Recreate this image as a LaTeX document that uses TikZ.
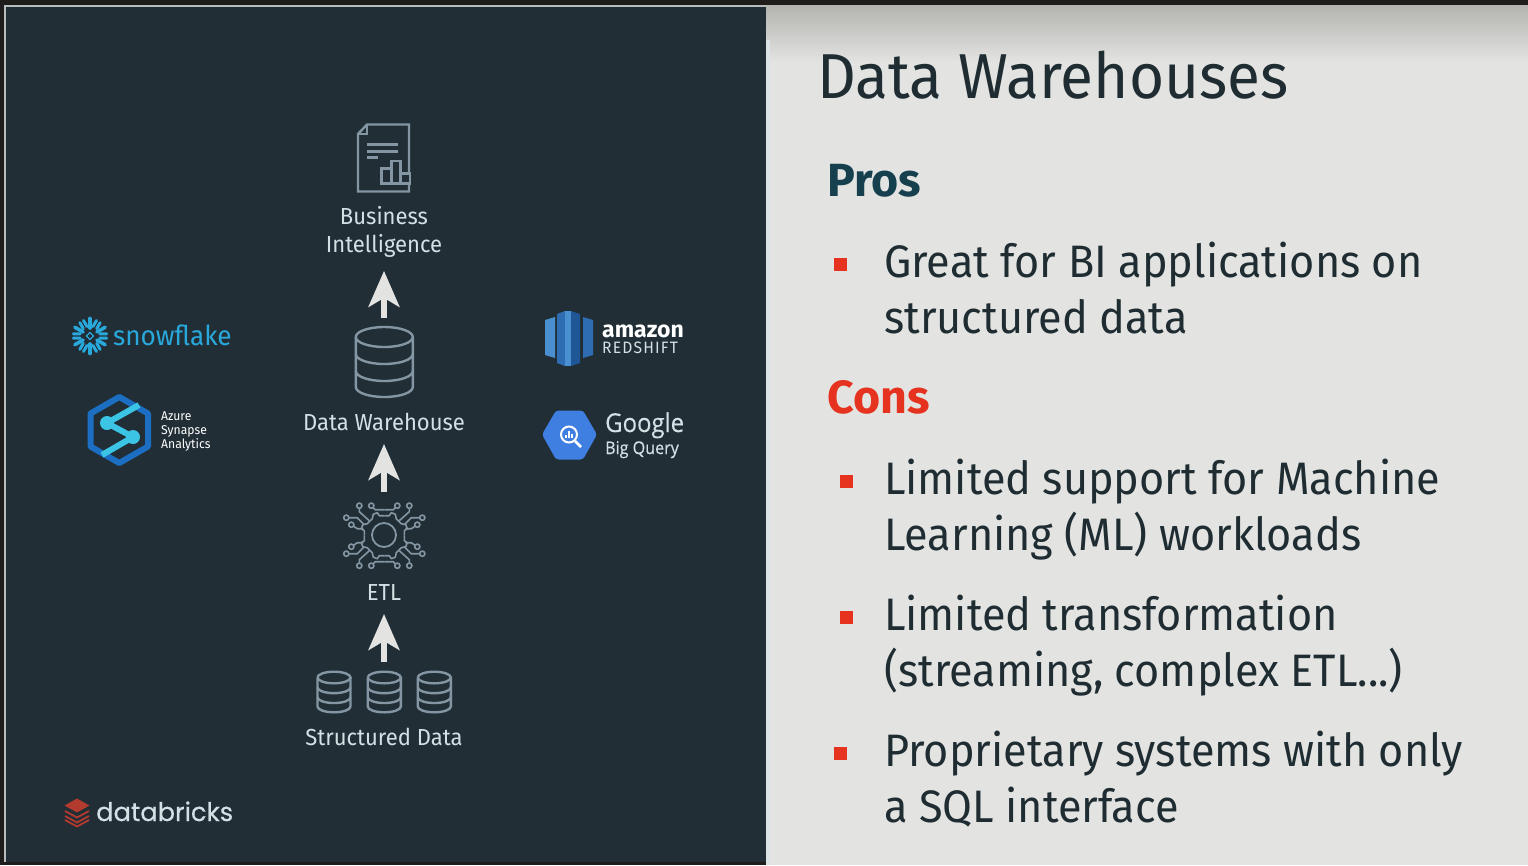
\documentclass[tikz,border=0pt]{standalone}
\usepackage{fontspec}
\setmainfont[FakeStretch=0.95]{Fira Sans}
\newfontfamily\boldface{Fira Sans}
\newfontfamily\logoface[FakeBold=0.4]{Poppins}
\newfontfamily\googleface[FakeStretch=0.92, FakeBold=0.3]{Open Sans}
\usetikzlibrary{positioning, arrows.meta}
\definecolor{slatebg}{HTML}{212E36}
\definecolor{paperbg}{HTML}{E3E4E1}
\definecolor{paperedge}{HTML}{DCE3E5}
\definecolor{topshade}{HTML}{B3B3B0}
\definecolor{framebar}{HTML}{1E1D1B}
\definecolor{frameedge}{HTML}{B9BCBC}
\definecolor{iconline}{HTML}{8496A3}
\definecolor{labeltxt}{HTML}{D5E0E4}
\definecolor{inktxt}{HTML}{1F2D33}
\definecolor{prostxt}{HTML}{17404F}
\definecolor{redmark}{HTML}{E5331F}
\definecolor{snowblue}{HTML}{29A8DC}
\definecolor{hexblue}{HTML}{1B6EC2}
\definecolor{hexcyan}{HTML}{3CC4E4}
\definecolor{shiftlight}{HTML}{4A8FD0}
\definecolor{shiftmid}{HTML}{2F6DB3}
\definecolor{shiftdark}{HTML}{1F5695}
\definecolor{bqblue}{HTML}{3F7FE2}
\definecolor{brickred}{HTML}{B23A2E}
\newcommand{\sz}[2]{\fontsize{#1}{#2}\selectfont}

\begin{document}
\begin{tikzpicture}[
    x=1pt, y=-1pt,
    iconbox/.style={inner sep=0pt, minimum width=70pt},
    sidelabel/.style={inner sep=0pt, align=center, text=labeltxt, font=\sz{23.2}{28.5}},
    heading/.style={inner sep=0pt, anchor=base west, font=\boldface\bfseries\sz{46.5}{50}},
    bulletmark/.style={fill=redmark, inner sep=0pt, minimum size=13pt},
    bullettxt/.style={inner sep=0pt, anchor=north west, align=left, text=inktxt, font=\sz{45.5}{55.5}},
    logotxt/.style={inner sep=0pt, anchor=base west, align=left},
    arr/.style={-{Stealth[length=36pt, width=31pt, inset=9pt]}, line width=5.5pt, paperbg},
    iconstroke/.style={draw=iconline, line width=2.4pt},
    dbcan/.pic={
      \draw[iconstroke] (-28.5,-25) arc[start angle=180, end angle=-180, x radius=28.5, y radius=10];
      \draw[iconstroke] (-28.5,-25) -- (-28.5,25) arc[start angle=180, end angle=0, x radius=28.5, y radius=10] -- (28.5,-25);
      \draw[iconstroke] (-28.5,-8) arc[start angle=180, end angle=0, x radius=28.5, y radius=10];
      \draw[iconstroke] (-28.5,9) arc[start angle=180, end angle=0, x radius=28.5, y radius=10];
    },
  ]
  % panels
  \fill[framebar] (0,0) rectangle (1528,865);
  \fill[frameedge] (4,5) rectangle (766,862);
  \fill[slatebg] (6,7) rectangle (766,862);
  \shade[top color=topshade, bottom color=paperbg] (766,5) rectangle (1528,62);
  \fill[paperbg] (766,62) rectangle (1528,865);
  \fill[paperedge] (766,40) rectangle (770,865);

  % flow on the left
  \node[iconbox, minimum height=72pt] (bicon) at (384,158) {};
  \node[sidelabel, anchor=north] (bilabel) at (384,206) {Business\\Intelligence};
  \node[iconbox, minimum height=88pt] (dwicon) at (384,362) {};
  \node[sidelabel, anchor=base] (dwlabel) at (384,430) {Data Warehouse};
  \node[iconbox, minimum height=86pt] (etlicon) at (384,535) {};
  \node[sidelabel, anchor=base] (etllabel) at (384,600) {ETL};
  \node[iconbox, minimum height=60pt] (srcicon) at (384,692) {};
  \node[sidelabel, anchor=base] (srclabel) at (384,745) {Structured Data};

  \draw[arr, shorten >=13pt] (dwicon.north) -- (bilabel.south);
  \draw[arr, shorten >=14pt] (etlicon.north) -- (dwlabel.base);
  \draw[arr, shorten >=14pt] (srcicon.north) -- (etllabel.base);

  % report icon
  \draw[iconstroke] (409,172) -- (409,124.5) -- (367,124.5) -- (358,134) -- (358,191.5) -- (409,191.5) -- (409,184);
  \draw[iconstroke] (367,124.5) -- (367,134) -- (358,134);
  \draw[iconstroke] (367,144.5) -- (398,144.5) (367,151.5) -- (398,151.5) (367,157.5) -- (378,157.5);
  \draw[iconstroke] (381.5,183.5) rectangle (391.5,168.5) (391.5,183.5) rectangle (400.5,161) (400.5,183.5) rectangle (410,173.5);

  % cylinders
  \pic at (384.3,362) {dbcan};
  \foreach \canx in {334,384.3,434.3}
    \pic[scale=0.58] at (\canx,692) {dbcan};

  % etl icon
  \draw[iconstroke, line width=1.8pt] (etlicon.center) circle[radius=12];
  \foreach \sx in {1,-1}{
    \foreach \sy in {1,-1}{
      \begin{scope}[shift={(384.3,535.7)}, xscale=\sx, yscale=\sy]
        \draw[iconstroke, line width=1.6pt, line join=round]
          (0,-20) -- (5,-20) -- (7,-23) -- (11,-21.5) -- (12,-17) -- (17,-12) -- (21.5,-11) -- (23,-7) -- (20,-5) -- (20,0);
        \draw[iconstroke, line width=1.6pt] (13,-30) -- (9,-26) -- (0,-26);
        \draw[iconstroke, line width=1.6pt] (25,-30) -- (25,-24) -- (15,-15);
        \draw[iconstroke, line width=1.6pt] (38,-18) -- (27,-18) -- (20,-11);
        \draw[iconstroke, line width=1.6pt] (33,-11) -- (27,-7) -- (21,-7);
        \foreach \ex/\ey in {13/-30, 25/-30, 38/-18, 33/-11}
          \draw[iconstroke, line width=1.6pt, fill=slatebg] (\ex,\ey) circle[radius=2.6];
      \end{scope}
    }
  }

  % snowflake
  \foreach \ang in {30,90,...,330}{
    \begin{scope}[shift={(90,336)}, rotate=\ang]
      \draw[snowblue, line width=3.6pt, line cap=round] (8,0) -- (17.5,0);
      \draw[snowblue, line width=3pt, line cap=round] (15.5,-6.5) -- (9.5,-3) (15.5,6.5) -- (9.5,3);
    \end{scope}
  }
  \draw[snowblue, line width=1.4pt] (90,332.5) -- (93.5,336) -- (90,339.5) -- (86.5,336) -- cycle;
  \node[logotxt, text=snowblue, font=\sz{27.5}{32}] (snowname) at (113,345) {snowflake};

  % synapse
  \draw[hexblue, line width=6pt, line join=round] (119.3,397) -- (148,413.5) -- (148,446.5) -- (119.3,463) -- (90.5,446.5) -- (90.5,413.5) -- cycle;
  \draw[hexcyan, line width=6pt, line join=round] (139,405) -- (107,423) -- (133,437) -- (102,455);
  \fill[hexcyan] (107,423) circle[radius=7] (133,437) circle[radius=7];
  \node[logotxt, text=white, font=\sz{12.8}{14}] (azurename) at (161,448) {Azure\\Synapse\\Analytics};

  % redshift
  \fill[shiftlight] (545,320) -- (555,317) -- (555,358) -- (545,355) -- cycle;
  \fill[shiftmid] (557,314) -- (565,311) -- (565,366) -- (557,363) -- cycle;
  \fill[shiftlight] (565,311) -- (571,311) -- (571,366) -- (565,366) -- cycle;
  \fill[shiftdark] (571,311) -- (580,314) -- (580,363) -- (571,366) -- cycle;
  \fill[shiftmid] (583,317) -- (593,320) -- (593,355) -- (583,358) -- cycle;
  \node[logotxt, text=white, font=\boldface\bfseries\sz{23}{26}] (amazonname) at (602,337) {amazon};
  \node[logotxt, text=labeltxt, font=\sz{16.5}{20}\addfontfeatures{LetterSpace=7}] (redshiftname) at (602,353.5) {REDSHIFT};

  % bigquery
  \fill[bqblue, rounded corners=3pt] (542,434.5) -- (556,410.5) -- (583,410.5) -- (597,434.5) -- (583,459.5) -- (556,459.5) -- cycle;
  \draw[white, line width=2pt] (569,434.5) circle[radius=8];
  \draw[white, line width=2.6pt] (575,441) -- (581,447);
  \draw[white, line width=1.4pt] (566,438) -- (566,435) (569,438) -- (569,431) (572,438) -- (572,434);
  \node[logotxt, text=labeltxt, font=\googleface\sz{26}{28}] (googlename) at (605,432) {Google};
  \node[logotxt, text=labeltxt, font=\googleface\sz{17.5}{19}] (bqname) at (605,454) {Big Query};

  % databricks
  \fill[brickred] (77,798.5) -- (89.5,805.5) -- (77,812.5) -- (64.5,805.5) -- cycle;
  \draw[brickred, line width=1.8pt] (65,811) -- (77,817.5) -- (89,811) (65,816) -- (77,822.5) -- (89,816) (65,820) -- (77,826.5) -- (89,820);
  \node[logotxt, text=labeltxt, font=\logoface\sz{25.7}{32}] (bricksname) at (96,821) {databricks};

  % text panel
  \node[inner sep=0pt, anchor=base west, text=inktxt, font=\sz{63.5}{70}] (title) at (817,98) {Data Warehouses};
  \node[heading, text=prostxt] (pros) at (827,196) {Pros};
  \node[heading, text=redmark] (cons) at (827,413) {Cons};

  \node[bulletmark] (b1) at (840,264) {};
  \node[bulletmark] (b2) at (846,481) {};
  \node[bulletmark] (b3) at (846,617) {};
  \node[bulletmark] (b4) at (840,753) {};
  \node[bullettxt] (t1) at (884,242) {Great for BI applications on\\structured data};
  \node[bullettxt] (t2) at (884,459) {Limited support for Machine\\Learning (ML) workloads};
  \node[bullettxt] (t3) at (884,595) {Limited transformation\\(streaming, complex ETL...)};
  \node[bullettxt] (t4) at (884,731) {Proprietary systems with only\\a SQL interface};
\end{tikzpicture}
\end{document}
